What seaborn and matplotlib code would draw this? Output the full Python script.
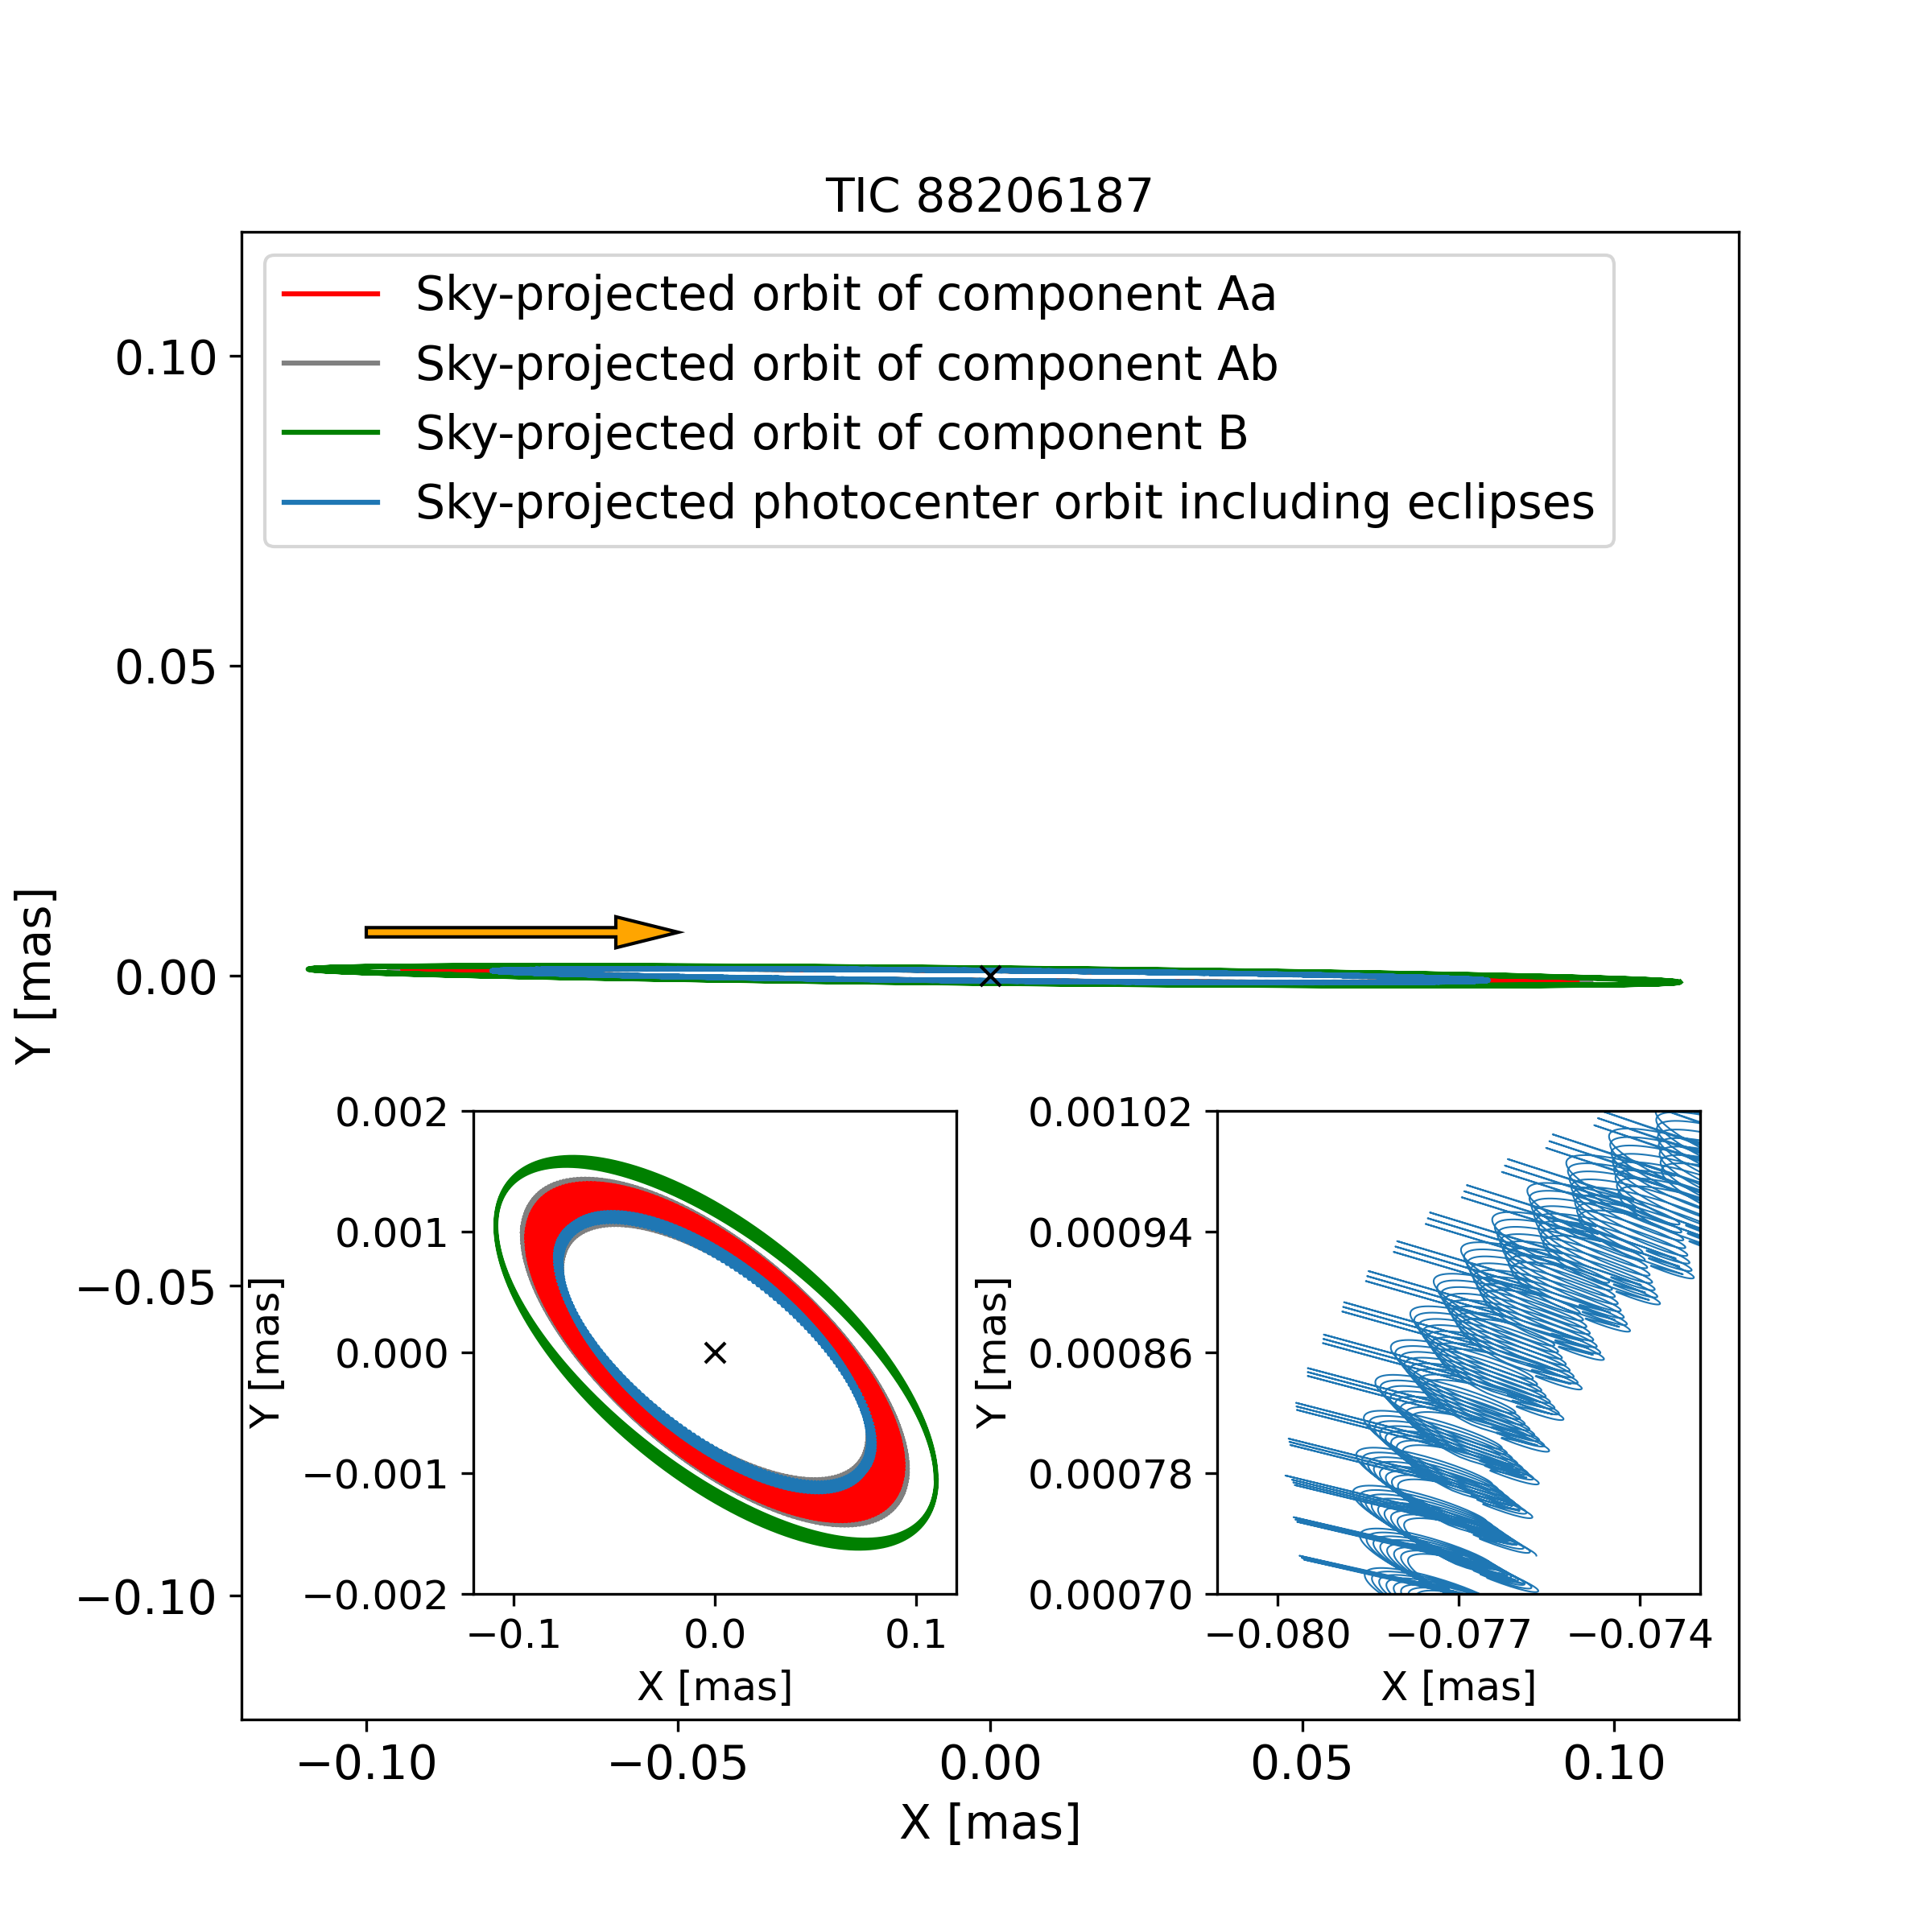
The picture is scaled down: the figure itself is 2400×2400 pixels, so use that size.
import numpy as np
import matplotlib
matplotlib.use("Agg")
import matplotlib.pyplot as plt
import seaborn as sns

# orbit parameters (all in mas)
n_rev = 8                        # outer revolutions drawn
cycles_per_rev = 215.11          # inner (eclipsing) periods per outer period
b_semi_x = [0.1088, 0.1100]      # x semi-amplitude of B, start / end of run
b_shift_x = 0.0006               # small offset of B's ellipse centre
b_cos_y = -0.00105               # y amplitude in phase with x
b_sin_y = [0.00112, 0.00125]     # y amplitude in quadrature, start / end
k_aa_bary = 0.785                # A barycentre = -k * B
k_photo = 0.706                  # photocentre = -k * B
inner_slope = -0.0145            # direction of the edge-on inner orbit
inner_open = 0.008               # small opening of the inner orbit
amp_aa = 0.0078
amp_ab = 0.0100
amp_photo = 0.0011
spike_len = 0.038                # radial eclipse shift of the photocentre
spike_peak = [0.1, np.pi + 0.1]
spike_width = 1.2
eclipse_depth = [1.0, 0.97, 0.94, 0, 0, 0, 0, 0]
eclipse_sigma = 0.012
secondary_ratio = 0.3

arrow_start = (-0.10, 0.007)
arrow_dx = 0.04
center_x = [0.0]
center_y = [0.0]

labels = ["Sky-projected orbit of component Aa",
          "Sky-projected orbit of component Ab",
          "Sky-projected orbit of component B",
          "Sky-projected photocenter orbit including eclipses"]
colors = ["red", "gray", "green", "tab:blue"]


def orbits(steps):
    tau = np.arange(int(n_rev * cycles_per_rev * steps)) / (cycles_per_rev * steps)
    frac = tau / n_rev
    t = 2 * np.pi * tau
    a = b_semi_x[0] + (b_semi_x[1] - b_semi_x[0]) * frac
    d = b_sin_y[0] + (b_sin_y[1] - b_sin_y[0]) * frac
    bx = a * np.cos(t)
    by = b_cos_y * np.cos(t) + d * np.sin(t)
    phi = 2 * np.pi * cycles_per_rev * tau
    wx = np.cos(phi)
    wy = inner_slope * np.cos(phi) + inner_open * np.sin(phi)

    # eclipses: photocentre jumps radially
    p = (cycles_per_rev * tau) % 1
    e1 = np.exp(-0.5 * ((p - 0.25) / eclipse_sigma) ** 2)
    e2 = np.exp(-0.5 * ((p - 0.75) / eclipse_sigma) ** 2)
    g = sum(np.exp(-(np.angle(np.exp(1j * (t - pk))) / spike_width) ** 2) for pk in spike_peak)
    depth = np.array(eclipse_depth)[np.minimum(tau.astype(int), n_rev - 1)]
    spike = spike_len * g * depth * (e1 - secondary_ratio * e2)

    out = {
        "B": (bx + b_shift_x, by),
        "Aa": (-k_aa_bary * bx + amp_aa * wx, -k_aa_bary * by + amp_aa * wy),
        "Ab": (-k_aa_bary * bx - amp_ab * wx, -k_aa_bary * by - amp_ab * wy),
        "P": (-k_photo * bx * (1 + spike) + amp_photo * wx,
              -k_photo * by * (1 + spike) + amp_photo * wy),
    }
    return out


coarse = orbits(16)
fine = orbits(80)
series = [("Ab", coarse, 1), ("Aa", coarse, 0), ("B", coarse, 2), ("P", fine, 3)]

fig, ax = plt.subplots(figsize=(8, 8))

for key, src, i in series:
    sns.lineplot(x=src[key][0], y=src[key][1], sort=False, estimator=None,
                 color=colors[i], lw=1.5, label=labels[i], ax=ax)
ax.plot(center_x, center_y, "kx")
ax.arrow(arrow_start[0], arrow_start[1], arrow_dx, 0, width=0.0015,
         head_width=0.005, head_length=0.01, fc="orange", ec="black", lw=1)

ax.set_xlim(-0.12, 0.12)
ax.set_ylim(-0.12, 0.12)
ax.set_xlabel("X [mas]", fontsize=14)
ax.set_ylabel("Y [mas]", fontsize=14)
ax.set_title("TIC 88206187", fontsize=14)
ax.tick_params(labelsize=14)

handles, labs = ax.get_legend_handles_labels()
order = [labs.index(l) for l in labels]
ax.legend([handles[j] for j in order], labels, loc="upper left", fontsize=14)

# inset 1: whole orbits, y stretched
ax1 = fig.add_axes([0.245, 0.175, 0.25, 0.25])
for key, src, i in series:
    sns.lineplot(x=src[key][0], y=src[key][1], sort=False, estimator=None,
                 color=colors[i], lw=0.8, legend=False, ax=ax1)
ax1.plot(center_x, center_y, "kx")
ax1.set_xlim(-0.12, 0.12)
ax1.set_ylim(-0.002, 0.002)
ax1.set_xticks([-0.1, 0.0, 0.1])
ax1.set_yticks([-0.002, -0.001, 0.0, 0.001, 0.002])
ax1.set_xlabel("X [mas]", fontsize=12)
ax1.set_ylabel("Y [mas]", fontsize=12)
ax1.tick_params(labelsize=12)

# inset 2: close-up of the photocentre with eclipse spikes
ax2 = fig.add_axes([0.63, 0.175, 0.25, 0.25])
sns.lineplot(x=fine["P"][0], y=fine["P"][1], sort=False, estimator=None,
             color=colors[3], lw=0.5, legend=False, ax=ax2)
ax2.set_xlim(-0.081, -0.073)
ax2.set_ylim(0.0007, 0.00102)
ax2.set_xticks([-0.080, -0.077, -0.074])
ax2.set_yticks([0.00070, 0.00078, 0.00086, 0.00094, 0.00102])
ax2.set_xlabel("X [mas]", fontsize=12)
ax2.set_ylabel("Y [mas]", fontsize=12)
ax2.tick_params(labelsize=12)

fig.savefig("out.png", dpi=300)
